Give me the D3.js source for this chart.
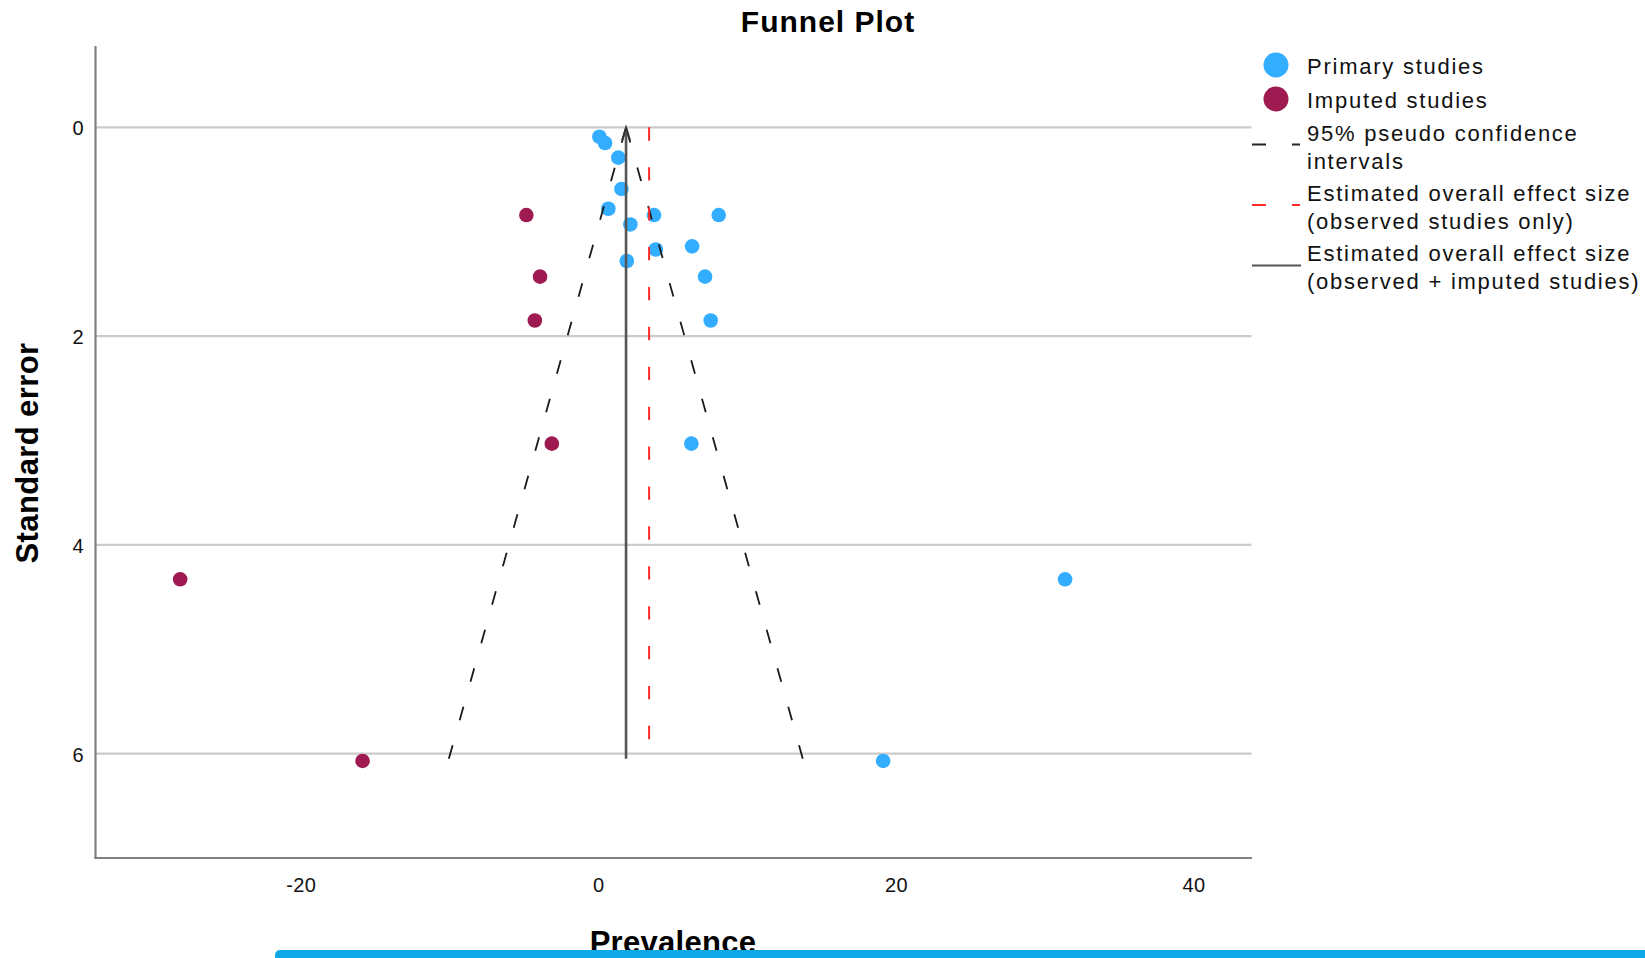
<!DOCTYPE html>
<html>
<head>
<meta charset="utf-8">
<title>Funnel Plot</title>
<script src="https://cdn.jsdelivr.net/npm/d3@7"></script>
<style>
  body { margin: 0; background: #fff; overflow: hidden; }
  svg { display: block; font-family: "Liberation Sans", Arial, sans-serif; }
</style>
</head>
<body>
<script>
'use strict';

// primary studies: prevalence and standard error
let primaryX = [0.07, 0.45, 1.34, 1.55, 0.67, 2.15, 3.74, 8.09, 3.86, 6.30, 1.91, 7.17, 7.55, 6.25, 31.37, 19.14];
let primarySE = [0.09, 0.15, 0.29, 0.59, 0.78, 0.93, 0.84, 0.84, 1.17, 1.14, 1.28, 1.43, 1.85, 3.03, 4.33, 6.07];

// imputed studies (trim and fill)
let imputedX = [-4.84, -3.92, -4.27, -3.13, -28.11, -15.85];
let imputedSE = [0.84, 1.43, 1.85, 3.03, 4.33, 6.07];

// 95% pseudo confidence limits, bottom -> apex
let funnelLeft = [[-10.05, 6.05], [1.86, 0]];
let funnelRight = [[13.74, 6.05], [1.86, 0]];

// overall effect sizes
let effectObserved = 3.41;
let effectAdjusted = 1.86;
let effectSE = [0, 6.05];

let xTicks = [-20, 0, 20, 40];
let yTicks = [0, 2, 4, 6];
let xDomain = [-33.8, 43.9];
let yDomain = [-0.77, 7.0];

let legendLabels = [
  ["Primary studies"],
  ["Imputed studies"],
  ["95% pseudo confidence", "intervals"],
  ["Estimated overall effect size", "(observed studies only)"],
  ["Estimated overall effect size", "(observed + imputed studies)"]
];

let svgContainer = "";

window.onload = function() {
  svgContainer = d3.select('body')
    .append('svg')
    .attr('width', 1645)
    .attr('height', 958);
  makePlot();
}

function makePlot() {
  let xScale = d3.scaleLinear().domain(xDomain).range([95.5, 1251.5]);
  let yScale = d3.scaleLinear().domain(yDomain).range([47, 858]);

  // horizontal gridlines
  svgContainer.selectAll('.grid')
    .data(yTicks)
    .enter().append('line')
      .attr('class', 'grid')
      .attr('x1', xScale(xDomain[0]))
      .attr('x2', xScale(xDomain[1]))
      .attr('y1', d => yScale(d))
      .attr('y2', d => yScale(d))
      .attr('stroke', '#cbcbcb')
      .attr('stroke-width', 2.2);

  drawAxes(xScale, yScale);

  // points
  let primary = primaryX.map((x, i) => [x, primarySE[i]]);
  let imputed = imputedX.map((x, i) => [x, imputedSE[i]]);

  svgContainer.selectAll('.primary')
    .data(primary)
    .enter().append('circle')
      .attr('class', 'primary')
      .attr('cx', d => xScale(d[0]))
      .attr('cy', d => yScale(d[1]))
      .attr('r', 7.3)
      .attr('fill', '#33adff');

  svgContainer.selectAll('.imputed')
    .data(imputed)
    .enter().append('circle')
      .attr('class', 'imputed')
      .attr('cx', d => xScale(d[0]))
      .attr('cy', d => yScale(d[1]))
      .attr('r', 7.3)
      .attr('fill', '#9e1a50');

  // funnel lines
  let line = d3.line().x(d => xScale(d[0])).y(d => yScale(d[1]));
  [funnelLeft, funnelRight].forEach(function(f) {
    svgContainer.append('path')
      .attr('d', line(f))
      .attr('fill', 'none')
      .attr('stroke', '#1a1a1a')
      .attr('stroke-width', 1.8)
      .attr('stroke-dasharray', '14,26');
  });

  // observed-only effect (red dashed)
  svgContainer.append('line')
    .attr('x1', xScale(effectObserved))
    .attr('x2', xScale(effectObserved))
    .attr('y1', yScale(effectSE[0]))
    .attr('y2', yScale(effectSE[1]))
    .attr('stroke', '#ff2b2b')
    .attr('stroke-width', 2)
    .attr('stroke-dasharray', '13.3,26.6');

  // adjusted effect (solid with small arrow head at the top)
  let xAdj = xScale(effectAdjusted);
  let yTop = yScale(effectSE[0]);
  svgContainer.append('line')
    .attr('x1', xAdj)
    .attr('x2', xAdj)
    .attr('y1', yScale(effectSE[1]))
    .attr('y2', yTop + 1)
    .attr('stroke', '#555')
    .attr('stroke-width', 2.6);

  svgContainer.append('path')
    .attr('d', d3.line()([[xAdj - 4, yTop + 13], [xAdj, yTop], [xAdj + 4, yTop + 13]]))
    .attr('fill', 'none')
    .attr('stroke', '#333')
    .attr('stroke-width', 1.8);

  makeLabels();
  makeLegend();

  // blue strip at the bottom of the screenshot
  svgContainer.append('rect')
    .attr('x', 275)
    .attr('y', 950)
    .attr('width', 1400)
    .attr('height', 20)
    .attr('rx', 5)
    .attr('fill', '#0fa8e6');
}

// draw the axes and tick labels
function drawAxes(xScale, yScale) {
  let fmt = d => String(d); // plain hyphen minus, as in the original

  let xAxis = d3.axisBottom(xScale).tickValues(xTicks).tickFormat(fmt).tickSize(0).tickPadding(19.5);
  let gx = svgContainer.append('g')
    .attr('transform', 'translate(0, 858)')
    .call(xAxis);
  gx.select('.domain').remove();

  let yAxis = d3.axisLeft(yScale).tickValues(yTicks).tickFormat(fmt).tickSize(0).tickPadding(11.5);
  let gy = svgContainer.append('g')
    .attr('transform', 'translate(95.5, 0)')
    .call(yAxis);
  gy.select('.domain').remove();
  gy.selectAll('text').attr('dy', '0.38em');

  svgContainer.selectAll('.tick text')
    .style('font-family', '"Liberation Sans", Arial, sans-serif')
    .style('font-size', '20px')
    .style('letter-spacing', '0.4px')
    .attr('fill', '#111');

  // axis lines
  svgContainer.append('line')
    .attr('x1', 95.5).attr('x2', 95.5)
    .attr('y1', 46).attr('y2', 859)
    .attr('stroke', '#808080').attr('stroke-width', 2.2);
  svgContainer.append('line')
    .attr('x1', 94.5).attr('x2', 1252)
    .attr('y1', 858).attr('y2', 858)
    .attr('stroke', '#808080').attr('stroke-width', 2.2);
}

// title and axis titles
function makeLabels() {
  svgContainer.append('text')
    .attr('x', 828)
    .attr('y', 31.5)
    .attr('text-anchor', 'middle')
    .style('font-size', '30px')
    .style('font-weight', 'bold')
    .style('letter-spacing', '1px')
    .text('Funnel Plot');

  svgContainer.append('text')
    .attr('x', 673)
    .attr('y', 953)
    .attr('text-anchor', 'middle')
    .style('font-size', '31px')
    .style('font-weight', 'bold')
    .style('letter-spacing', '0.3px')
    .text('Prevalence');

  svgContainer.append('text')
    .attr('transform', 'translate(38, 453)rotate(-90)')
    .attr('text-anchor', 'middle')
    .style('font-size', '31px')
    .style('font-weight', 'bold')
    .style('letter-spacing', '0.4px')
    .text('Standard error');
}

function makeLegend() {
  let baselines = [73.7, 108.4, 140.7, 200.7, 260.7];
  let legend = svgContainer.append('g');

  legend.selectAll('.ltext')
    .data(legendLabels)
    .enter().append('text')
      .attr('class', 'ltext')
      .attr('y', (d, i) => baselines[i])
      .style('font-size', '22px')
      .style('letter-spacing', '1.75px')
      .attr('fill', '#111')
      .selectAll('tspan')
      .data(d => d)
      .enter().append('tspan')
        .attr('x', 1307)
        .attr('dy', (d, j) => j == 0 ? 0 : 28)
        .text(d => d);

  legend.append('circle').attr('cx', 1276).attr('cy', 65).attr('r', 12.5).attr('fill', '#33adff');
  legend.append('circle').attr('cx', 1276).attr('cy', 99).attr('r', 12.5).attr('fill', '#9e1a50');

  legend.append('line')
    .attr('x1', 1252).attr('x2', 1300).attr('y1', 144.5).attr('y2', 144.5)
    .attr('stroke', '#222').attr('stroke-width', 2).attr('stroke-dasharray', '14,26');
  legend.append('line')
    .attr('x1', 1252).attr('x2', 1300).attr('y1', 205).attr('y2', 205)
    .attr('stroke', '#ff2b2b').attr('stroke-width', 2).attr('stroke-dasharray', '14,26');
  legend.append('line')
    .attr('x1', 1252).attr('x2', 1301).attr('y1', 265.5).attr('y2', 265.5)
    .attr('stroke', '#555').attr('stroke-width', 2.2);
}
</script>
</body>
</html>
